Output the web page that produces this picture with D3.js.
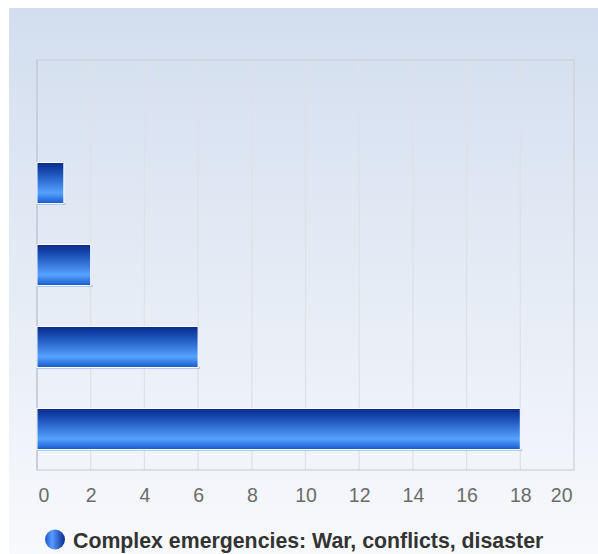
<!DOCTYPE html>
<html><head><meta charset="utf-8">
<script src="https://cdn.jsdelivr.net/npm/d3@7"></script>
<style>html,body{margin:0;padding:0;background:#fff;}svg{display:block;}</style>
</head><body>
<svg id="c" width="598" height="554"></svg>
<script>
const categories = ["E", "D", "C", "B", "A"];
const values = [0, 1, 2, 6, 18];
const tickValues = [0, 2, 4, 6, 8, 10, 12, 14, 16, 18, 20];
const seriesName = "Complex emergencies: War, conflicts, disaster";

const svg = d3.select("#c");
const defs = svg.append("defs");
const bg = defs.append("linearGradient").attr("id","bg").attr("x1",0).attr("y1",0).attr("x2",0).attr("y2",1);
bg.append("stop").attr("offset","0%").attr("stop-color","#d2deef");
bg.append("stop").attr("offset","100%").attr("stop-color","#f8f9fc");
const bar = defs.append("linearGradient").attr("id","bar").attr("x1",0).attr("y1",0).attr("x2",0).attr("y2",1);
[["0%","#0a2a88"],["25%","#1a4fb8"],["74%","#56a2ff"],["100%","#1759cc"]].forEach(s=>bar.append("stop").attr("offset",s[0]).attr("stop-color",s[1]));
const leg = defs.append("linearGradient").attr("id","leg").attr("x1",0).attr("y1",0).attr("x2",1).attr("y2",0);
[["0%","#1a55d0"],["35%","#5a9cff"],["100%","#0a2a90"]].forEach(s=>leg.append("stop").attr("offset",s[0]).attr("stop-color",s[1]));

svg.append("rect").attr("x",9).attr("y",8).attr("width",589).attr("height",546).attr("fill","url(#bg)");

const L=37, R=574, T=60, B=470;
const x = d3.scaleLinear().domain([0,20]).range([L,R]);
const y = d3.scaleBand().domain(categories).range([T,B]).paddingInner(0.5).paddingOuter(0.25);

// grid
svg.append("g").selectAll("line").data(tickValues.slice(1,-1)).join("line")
  .attr("x1",d=>x(d)).attr("x2",d=>x(d)).attr("y1",T).attr("y2",B)
  .attr("stroke","#dfe1e6").attr("stroke-width",1.3);
svg.append("rect").attr("x",L).attr("y",T).attr("width",R-L).attr("height",B-T)
  .attr("fill","none").attr("stroke","#cfd2d8").attr("stroke-width",1.3);
svg.append("line").attr("x1",L).attr("x2",L).attr("y1",T).attr("y2",B).attr("stroke","#c9cede").attr("stroke-width",2);

// bars
const bars = svg.append("g");
const data = categories.map((c,i)=>({c, v: values[i]})).filter(d=>d.v>0);
bars.selectAll("rect.sh").data(data).join("rect").attr("class","sh")
  .attr("x",x(0)).attr("y",d=>y(d.c)+y.bandwidth()-0.5).attr("width",d=>x(d.v)-x(0)+2).attr("height",2)
  .attr("fill","#9fb8e6").attr("opacity",0.7);
bars.selectAll("rect.b").data(data).join("rect").attr("class","b")
  .attr("x",x(0)).attr("y",d=>y(d.c)).attr("width",d=>x(d.v)-x(0)).attr("height",y.bandwidth())
  .attr("fill","url(#bar)").attr("stroke","#ffffff").attr("stroke-width",1);

// x axis labels
const axis = d3.axisBottom(x).tickValues(tickValues).tickSize(0).tickPadding(0);
const ag = svg.append("g").attr("transform",`translate(0,${B+18})`).call(axis);
ag.select(".domain").remove();
ag.selectAll("text").attr("fill","#6b6b6b").attr("font-family","Liberation Sans, Arial, sans-serif").attr("font-size",19.5)
  .attr("dy","0.71em")
  .attr("text-anchor",d=>d===0?"start":(d===20?"end":"middle"))
  .attr("dx",d=>d===0?1:(d===20?-2:0));

// legend
svg.append("circle").attr("cx",55).attr("cy",539.5).attr("r",10).attr("fill","url(#leg)");
svg.append("text").attr("x",73).attr("y",547.5).text(seriesName)
  .attr("font-family","Liberation Sans, Arial, sans-serif").attr("font-weight","bold").attr("font-size",21.3).attr("fill","#333");
</script>
</body></html>
